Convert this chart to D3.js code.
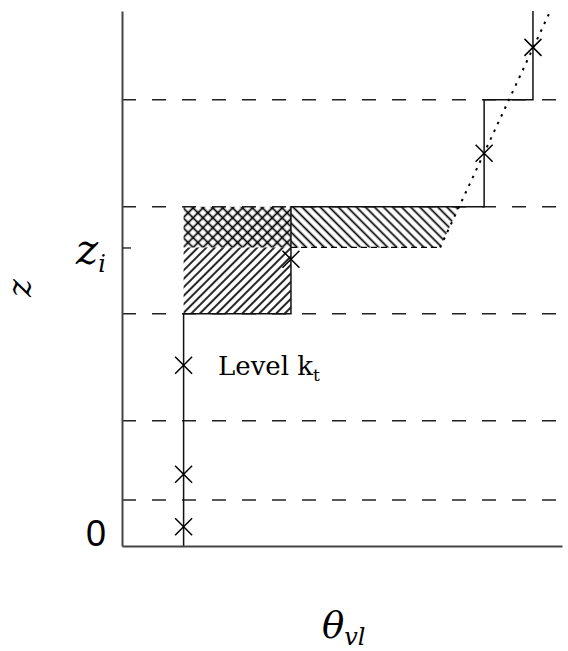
<!DOCTYPE html>
<html><head><meta charset="utf-8">
<script src="https://cdn.jsdelivr.net/npm/d3@7"></script>
<style>html,body{margin:0;padding:0;background:#fff;} svg{display:block;}</style>
</head><body>
<script>
// Model level interfaces (height units) and top of the plotted column
const levelHeights = [43, 117, 217, 317, 417];
const zTop = 500;
const ziHeight = 279;

// Layer-mean theta_vl as a step profile (z, theta pairs)
const stepZ     = [0, 217, 217, 317, 317, 417, 417, 500];
const stepTheta = [14, 14, 38.4, 38.4, 82.3, 82.3, 93.4, 93.4];

// Layer-midpoint values (crosses)
const markerZ     = [18, 67, 169, 268, 367, 466];
const markerTheta = [14, 14, 14, 38.4, 82.3, 93.4];

// Line through the upper layer values, extended down to z_i
const lineZ     = [279, 497];
const lineTheta = [72.3, 97];

// Shaded areas
const crossTheta = [14, 38.4],  crossZ = [279, 317];
const lowerTheta = [14, 38.4],  lowerZ = [217, 279];
const excessTheta = [38.4, 38.4, 76.6, 72.3], excessZ = [279, 317, 317, 279];

const W = 568, H = 651;
const svg = d3.select("body").append("svg").attr("width", W).attr("height", H);

const x = d3.scaleLinear().domain([0, 100]).range([122, 562]);
const y = d3.scaleLinear().domain([0, zTop]).range([546, 11]);

// Hatch patterns
const defs = svg.append("defs");
function hatch(id, spacing, angle, cross) {
  const p = defs.append("pattern").attr("id", id)
    .attr("patternUnits", "userSpaceOnUse")
    .attr("width", spacing).attr("height", spacing)
    .attr("patternTransform", `rotate(${angle})`);
  p.append("line").attr("x1", spacing / 2).attr("y1", -1).attr("x2", spacing / 2).attr("y2", spacing + 1)
    .attr("stroke", "#000").attr("stroke-width", 1.7);
  if (cross) {
    p.append("line").attr("x1", -1).attr("y1", spacing / 2).attr("x2", spacing + 1).attr("y2", spacing / 2)
      .attr("stroke", "#000").attr("stroke-width", 1.7);
  }
}
hatch("h-fwd", 6, 45, false);
hatch("h-back", 6.4, -45, false);
hatch("h-cross", 7, 45, true);

const rect = (th, zz, fill) => svg.append("rect")
  .attr("x", x(th[0])).attr("y", y(zz[1]))
  .attr("width", x(th[1]) - x(th[0])).attr("height", y(zz[0]) - y(zz[1]))
  .attr("fill", fill);
rect(lowerTheta, lowerZ, "url(#h-fwd)");
rect(crossTheta, crossZ, "url(#h-cross)");
svg.append("path")
  .attr("d", d3.line()(excessTheta.map((t, i) => [x(t), y(excessZ[i])])) + "Z")
  .attr("fill", "url(#h-back)");

// Lower edge of the excess area at z_i
svg.append("line")
  .attr("x1", x(excessTheta[0])).attr("x2", x(excessTheta[3]))
  .attr("y1", y(ziHeight)).attr("y2", y(ziHeight))
  .attr("stroke", "#000").attr("stroke-width", 1.3).attr("stroke-dasharray", "6,4");

// Level interfaces
svg.append("g").selectAll("line").data(levelHeights).join("line")
  .attr("x1", x(0)).attr("x2", x(99))
  .attr("y1", d => y(d)).attr("y2", d => y(d))
  .attr("stroke", "#222").attr("stroke-width", 1.4)
  .attr("stroke-dasharray", "14,16");

// Step profile
svg.append("path")
  .attr("d", d3.line()(stepTheta.map((t, i) => [x(t), y(stepZ[i])])))
  .attr("fill", "none").attr("stroke", "#111").attr("stroke-width", 1.5);

// Dotted extension line
svg.append("path")
  .attr("d", d3.line()(lineTheta.map((t, i) => [x(t), y(lineZ[i])])))
  .attr("fill", "none").attr("stroke", "#000").attr("stroke-width", 2)
  .attr("stroke-dasharray", "2.5,6");

// Crosses
const sym = d3.symbol(d3.symbolTimes, 190);
svg.append("g").selectAll("path").data(markerZ).join("path")
  .attr("d", sym)
  .attr("transform", (d, i) => `translate(${x(markerTheta[i])},${y(d)})`)
  .attr("fill", "none").attr("stroke", "#000").attr("stroke-width", 1.5);

// Axes
const yAxis = svg.append("g").attr("transform", `translate(${x(0)},0)`)
  .call(d3.axisLeft(y).tickValues([ziHeight]).tickSizeInner(-9).tickSizeOuter(0).tickFormat(""));
const xAxis = svg.append("g").attr("transform", `translate(0,${y(0)})`)
  .call(d3.axisBottom(x).tickValues([]).tickSizeOuter(0));
[yAxis, xAxis].forEach(g => {
  g.select(".domain").attr("stroke", "#444").attr("stroke-width", 2);
  g.selectAll(".tick line").attr("stroke", "#333").attr("stroke-width", 1.5);
});

// Labels
const serif = "'DejaVu Serif', serif";
svg.append("text").attr("x", 106).attr("y", y(0))
  .attr("text-anchor", "end")
  .attr("font-family", "'Liberation Sans', sans-serif").attr("font-size", 36)
  .text("0");

const zi = svg.append("text").attr("x", 76).attr("y", y(ziHeight) + 17)
  .attr("font-family", serif).attr("font-style", "italic").attr("font-size", 42);
zi.append("tspan").text("z");
zi.append("tspan").attr("font-size", 24).attr("dy", 8).text("i");

const lev = svg.append("text").attr("x", 218).attr("y", 375)
  .attr("font-family", serif).attr("font-size", 26);
lev.append("tspan").text("Level k");
lev.append("tspan").attr("font-size", 17).attr("dy", 6).text("t");

const th = svg.append("text").attr("x", 322).attr("y", 638)
  .attr("font-family", serif).attr("font-style", "italic").attr("font-size", 37);
th.append("tspan").text("θ");
th.append("tspan").attr("font-size", 24).attr("dy", 7).text("vl");

svg.append("text").attr("transform", "translate(31,288) rotate(-90)")
  .attr("text-anchor", "middle")
  .attr("font-family", serif).attr("font-style", "italic").attr("font-size", 34)
  .text("z");
</script>
</body></html>
